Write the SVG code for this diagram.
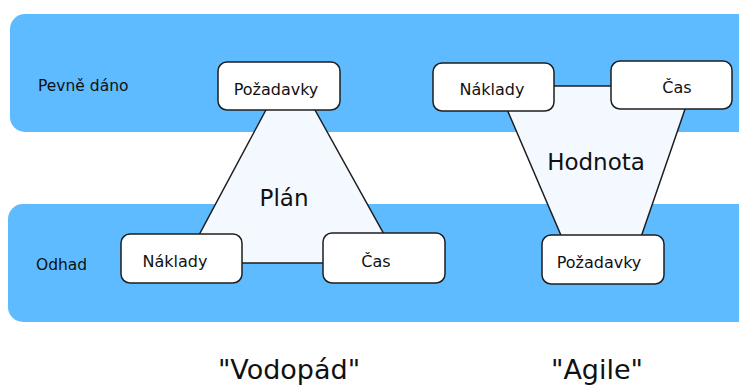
<svg xmlns="http://www.w3.org/2000/svg" width="739" height="387" viewBox="0 0 739 387">
<style>
.band{fill:#5ebbff}
.box{fill:#fff;stroke:#1e1e1e;stroke-width:1.5}
.shape{fill:#f4f9ff;stroke:#1e1e1e;stroke-width:1.5}
text{font-family:"DejaVu Sans","Liberation Sans",sans-serif;fill:#111}
.side{font-size:15.5px}
.lbl{font-size:16px}
.big{font-size:23px}
.cap{font-size:27px}
</style>
<g id="bands">
<rect class="band" x="10" y="14" width="745" height="118" rx="15"/>
<rect class="band" x="8" y="204" width="747" height="118" rx="15"/>
<text class="side" x="38" y="91">Pevně dáno</text>
<text class="side" x="36" y="270">Odhad</text>
</g>
<g id="connectors">
<polygon class="shape" points="290,65 184,263 400,263"/>
<polygon class="shape" points="497,86 693,86 640,240 563,240"/>
</g>
<g id="plan-label"><text class="big" x="284" y="206" text-anchor="middle">Plán</text></g>
<g id="hodnota-label"><text class="big" x="596" y="170" text-anchor="middle" font-size="26.5">Hodnota</text></g>
<g id="w-pozadavky">
<rect class="box" x="218" y="62" width="122" height="48" rx="9"/>
<text class="lbl" x="276" y="95" text-anchor="middle">Požadavky</text>
</g>
<g id="w-naklady">
<rect class="box" x="121" y="234" width="121" height="49" rx="9"/>
<text class="lbl" x="175" y="267" text-anchor="middle">Náklady</text>
</g>
<g id="w-cas">
<rect class="box" x="323" y="233" width="122" height="50" rx="9"/>
<text class="lbl" x="376" y="267" text-anchor="middle">Čas</text>
</g>
<g id="a-naklady">
<rect class="box" x="433" y="63" width="121" height="48" rx="9"/>
<text class="lbl" x="492" y="95" text-anchor="middle">Náklady</text>
</g>
<g id="a-cas">
<rect class="box" x="611" y="61" width="121" height="48" rx="9"/>
<text class="lbl" x="677" y="93" text-anchor="middle">Čas</text>
</g>
<g id="a-pozadavky">
<rect class="box" x="542" y="235" width="122" height="49" rx="9"/>
<text class="lbl" x="599" y="268" text-anchor="middle">Požadavky</text>
</g>
<g id="captions">
<text class="cap" x="289" y="379" text-anchor="middle">"Vodopád"</text>
<text class="cap" x="597" y="379" text-anchor="middle">"Agile"</text>
</g>
</svg>
